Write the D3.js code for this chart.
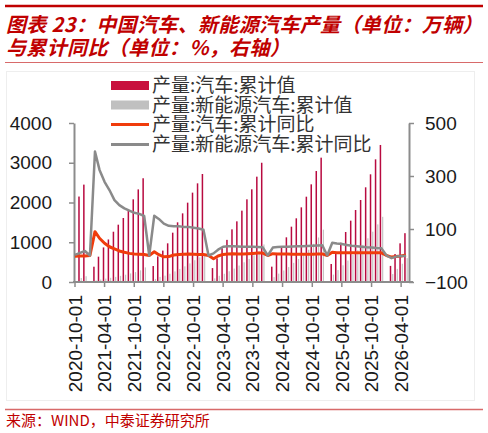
<!DOCTYPE html>
<html>
<head>
<meta charset="utf-8">
<script src="https://cdn.jsdelivr.net/npm/d3@7"></script>
<style>
  body { margin: 0; background: #fff; }
  svg { display: block; }
</style>
</head>
<body>
<div id="chart"></div>
<script>
// months on the x axis (one bar slot per month)
var months = [
  "2020-10", "2020-11", "2020-12",
  "2021-01", "2021-02", "2021-03", "2021-04", "2021-05", "2021-06", "2021-07", "2021-08", "2021-09", "2021-10", "2021-11", "2021-12",
  "2022-01", "2022-02", "2022-03", "2022-04", "2022-05", "2022-06", "2022-07", "2022-08", "2022-09", "2022-10", "2022-11", "2022-12",
  "2023-01", "2023-02", "2023-03", "2023-04", "2023-05", "2023-06", "2023-07", "2023-08", "2023-09", "2023-10", "2023-11", "2023-12",
  "2024-01", "2024-02", "2024-03", "2024-04", "2024-05", "2024-06", "2024-07", "2024-08", "2024-09", "2024-10", "2024-11", "2024-12",
  "2025-01", "2025-02", "2025-03", "2025-04", "2025-05", "2025-06", "2025-07", "2025-08", "2025-09", "2025-10", "2025-11", "2025-12",
  "2026-01", "2026-02", "2026-03", "2026-04", "2026-05"
];

// 产量:汽车:累计值 (万辆)
var autoCum = [
  null, 2150, 2450,
  null, 385, 637, 870, 1070, 1265, 1442, 1610, 1790, 2080, 2330, 2610,
  null, 402, 645, 790, 973, 1241, 1501, 1727, 1996, 2248, 2482, 2717,
  null, 350, 595, 850, 1060, 1325, 1526, 1795, 2080, 2332, 2650, 3000,
  null, 386, 680, 889, 1124, 1392, 1602, 1878, 2146, 2457, 2792, 3128,
  null, 453, 722, 989, 1258, 1543, 1811, 2063, 2382, 2709, 3086, 3447,
  null, 405, 704, 973, 1228
];

// 产量:新能源汽车:累计值 (万辆)
var nevCum = [
  null, 100, 145,
  null, 39, 63, 85, 106, 129, 155, 184, 216, 249, 294, 367,
  null, 77, 128, 160, 208, 267, 328, 394, 468, 548, 620, 700,
  null, 92, 156, 207, 270, 338, 414, 496, 580, 672, 772, 944,
  null, 123, 211, 290, 375, 482, 580, 687, 813, 960, 1120, 1317,
  null, 186, 300, 420, 540, 682, 800, 935, 1100, 1266, 1450, 1640,
  null, 200, 330, 460, 600
];

// 产量:汽车:累计同比 (%), right axis
var autoYoy = [
  -3, -2, -2,
  0, 90, 65, 46, 33, 25, 17, 12, 8, 6, 5, 4,
  0, 14, 3, -5, -4, 2, 4, 5, 6, 5, 4, 4,
  0, -12, -2, 4, 6, 7, 6, 6, 7, 8, 9, 9,
  0, 7, 6, 6, 6, 5, 5, 5, 5, 5, 6, 6,
  0, 12, 10, 10, 10, 10, 10, 10, 10, 10, 10, 10,
  0, -6, -4, -2, 2
];

// 产量:新能源汽车:累计同比 (%), right axis
var nevYoy = [
  2, 10, 17,
  0, 392, 323, 278, 247, 209, 190, 178, 169, 161, 157, 149,
  0, 150, 138, 120, 112, 110, 110, 108, 108, 105, 102, 97,
  0, 8, 22, 33, 35, 35, 34, 33, 33, 33, 32, 31,
  0, 30, 32, 33, 33, 34, 35, 35, 36, 37, 38, 39,
  0, 48, 45, 43, 40, 37, 35, 33, 31, 30, 28, 27,
  0, -10, -4, -2, -2
];

var xTickLabels = ["2020-10-01", "2021-04-01", "2021-10-01", "2022-04-01", "2022-10-01", "2023-04-01",
  "2023-10-01", "2024-04-01", "2024-10-01", "2025-04-01", "2025-10-01", "2026-04-01"];
var leftTicks = [0, 1000, 2000, 3000, 4000];
var rightTicks = [-100, 100, 300, 500];
var legendNames = ["产量:汽车:累计值", "产量:新能源汽车:累计值", "产量:汽车:累计同比", "产量:新能源汽车:累计同比"];

var W = 488, H = 433;
var parseM = d3.timeParse("%Y-%m");
var parseD = d3.timeParse("%Y-%m-%d");

var lstData = [];
for (var i = 0; i < months.length; i++) {
  lstData.push({
    date: parseM(months[i]),
    auto: autoCum[i],
    nev: nevCum[i],
    autoY: autoYoy[i],
    nevY: nevYoy[i]
  });
}

var svg = d3.select("#chart").append("svg")
  .attr("width", W)
  .attr("height", H);

var red = "#C00000";
var numFont = "'Liberation Sans', Arial, sans-serif";
var cjkFont = "'Noto Sans CJK SC', sans-serif";

// header rules and title
svg.append("line").attr("x1", 5).attr("x2", 483).attr("y1", 6).attr("y2", 6)
  .attr("stroke", red).attr("stroke-width", 2.5);
svg.append("line").attr("x1", 5).attr("x2", 483).attr("y1", 62.5).attr("y2", 62.5)
  .attr("stroke", "#D86A6A").attr("stroke-width", 1.2);

var title = svg.append("text")
  .style("font-family", cjkFont)
  .style("font-size", "20px")
  .style("font-weight", "bold")
  .style("font-style", "italic")
  .style("letter-spacing", "0.35px")
  .style("fill", red);
title.append("tspan").attr("x", 6).attr("y", 31.5).text("图表 23：中国汽车、新能源汽车产量（单位：万辆）");
title.append("tspan").attr("x", 6).attr("y", 54.5).text("与累计同比（单位：%，右轴）");

// faint chart frame
svg.append("rect").attr("x", 6.5).attr("y", 71.5).attr("width", 468).attr("height", 329)
  .attr("fill", "none").attr("stroke", "#EEEEEE").attr("stroke-width", 1);

// scales
var x = d3.scaleTime()
  .domain([parseM("2020-10"), parseM("2026-05")])
  .range([75, 406]);
var yL = d3.scaleLinear().domain([0, 4000]).range([282, 123]);
var yR = d3.scaleLinear().domain([-100, 500]).range([282, 123]);

var axisColor = "#8C8C8C";

// bars
svg.append("g")
  .selectAll("rect.auto")
  .data(lstData.filter(function (d) { return d.auto != null; }))
  .enter()
  .append("rect")
  .attr("class", "auto")
  .attr("x", function (d) { return x(d.date) - 1.8; })
  .attr("y", function (d) { return yL(d.auto); })
  .attr("width", 1.5)
  .attr("height", function (d) { return yL(0) - yL(d.auto); })
  .attr("fill", "#B80A40");

svg.append("g")
  .selectAll("rect.nev")
  .data(lstData.filter(function (d) { return d.nev != null; }))
  .enter()
  .append("rect")
  .attr("class", "nev")
  .attr("x", function (d) { return x(d.date) + 0.6; })
  .attr("y", function (d) { return yL(d.nev); })
  .attr("width", 1.2)
  .attr("height", function (d) { return yL(0) - yL(d.nev); })
  .attr("fill", "#C4C4C4");

// axes
var gL = svg.append("g")
  .attr("transform", "translate(74,0)")
  .call(d3.axisLeft(yL).tickValues(leftTicks).tickFormat(d3.format("d"))
    .tickSize(5).tickSizeOuter(0).tickPadding(17));
var gR = svg.append("g")
  .attr("transform", "translate(409,0)")
  .call(d3.axisRight(yR).tickValues(rightTicks).tickFormat(d3.format("d"))
    .tickSize(5).tickSizeOuter(0).tickPadding(11));

[gL, gR].forEach(function (g) {
  g.select(".domain").attr("stroke", axisColor).attr("stroke-width", 2);
  g.selectAll(".tick line").attr("stroke", axisColor).attr("stroke-width", 1.5);
  g.selectAll(".tick text")
    .style("font-family", numFont)
    .style("font-size", "19px")
    .style("fill", "#1a1a1a");
});

// bottom axis
svg.append("line")
  .attr("x1", 73).attr("x2", 413).attr("y1", yL(0)).attr("y2", yL(0))
  .attr("stroke", axisColor).attr("stroke-width", 2);

var xt = svg.append("g")
  .selectAll("g.xt")
  .data(xTickLabels)
  .enter()
  .append("g")
  .attr("class", "xt")
  .attr("transform", function (d) { return "translate(" + x(parseD(d)) + ",0)"; });
xt.append("line")
  .attr("y1", yL(0)).attr("y2", yL(0) + 5)
  .attr("stroke", axisColor).attr("stroke-width", 1.5);
xt.append("text")
  .attr("transform", "translate(0,295) rotate(-90)")
  .attr("dy", "0.35em")
  .attr("text-anchor", "end")
  .style("font-family", numFont)
  .style("font-size", "19px")
  .style("fill", "#1a1a1a")
  .text(function (d) { return d; });

// lines
var lineR = d3.line()
  .x(function (d) { return x(d.date); })
  .y(function (d) { return yR(d.autoY); });
var lineG = d3.line()
  .x(function (d) { return x(d.date); })
  .y(function (d) { return yR(d.nevY); });

svg.append("path")
  .datum(lstData)
  .attr("fill", "none")
  .attr("stroke", "#F03C0C")
  .attr("stroke-width", 3)
  .attr("stroke-linejoin", "round")
  .attr("d", lineR);

svg.append("path")
  .datum(lstData)
  .attr("fill", "none")
  .attr("stroke", "#8A8A8A")
  .attr("stroke-width", 2.5)
  .attr("stroke-linejoin", "round")
  .attr("d", lineG);

// legend
var legY = [85.5, 105, 124.5, 144.5];
var leg = svg.append("g");
leg.append("rect").attr("x", 111).attr("y", legY[0] - 4.5).attr("width", 38).attr("height", 9).attr("fill", "#C8103E");
leg.append("rect").attr("x", 111).attr("y", legY[1] - 4.5).attr("width", 38).attr("height", 9).attr("fill", "#C0C0C0");
leg.append("line").attr("x1", 111).attr("x2", 149).attr("y1", legY[2]).attr("y2", legY[2])
  .attr("stroke", "#F03C0C").attr("stroke-width", 3);
leg.append("line").attr("x1", 111).attr("x2", 149).attr("y1", legY[3]).attr("y2", legY[3])
  .attr("stroke", "#8A8A8A").attr("stroke-width", 3);

leg.selectAll("text")
  .data(legendNames)
  .enter()
  .append("text")
  .attr("x", 152)
  .attr("y", function (d, i) { return legY[i]; })
  .attr("dy", "0.36em")
  .style("font-family", cjkFont)
  .style("font-size", "19px")
  .style("fill", "#333")
  .text(function (d) { return d; });

// source
svg.append("line").attr("x1", 5).attr("x2", 483).attr("y1", 409.5).attr("y2", 409.5)
  .attr("stroke", "#D86A6A").attr("stroke-width", 1.5);
svg.append("text")
  .attr("x", 6)
  .attr("y", 425.5)
  .style("font-family", cjkFont)
  .style("font-size", "15px")
  .style("fill", red)
  .text("来源：WIND，中泰证券研究所");
</script>
</body>
</html>
